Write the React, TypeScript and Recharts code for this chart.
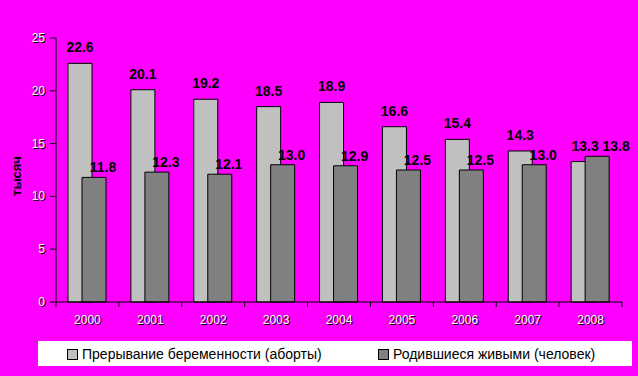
import { BarChart, Bar, XAxis, YAxis, LabelList } from "recharts";

const years = ["2000", "2001", "2002", "2003", "2004", "2005", "2006", "2007", "2008"];
const abortions = [22.6, 20.1, 19.2, 18.5, 18.9, 16.6, 15.4, 14.3, 13.3];
const births = [11.8, 12.3, 12.1, 13.0, 12.9, 12.5, 12.5, 13.0, 13.8];
const yTicks = [0, 5, 10, 15, 20, 25];

const seriesNames = ["Прерывание беременности (аборты)", "Родившиеся живыми (человек)"];
const yLabel = "тысяч";

const W = 638;
const H = 376;
const PLOT_LEFT = 56;
const PLOT_RIGHT = 622;
const PLOT_BOTTOM = 302;
const BAND = (PLOT_RIGHT - PLOT_LEFT) / years.length;
const FONT = "'Liberation Sans', Arial, sans-serif";

const data = years.map((year, i) => ({
  year,
  abortions: abortions[i],
  births: births[i],
}));

// white text with a dark edge, like the old Excel chart
function Embossed({ x, y, anchor, children }: any) {
  return (
    <g fontFamily={FONT} fontSize={12}>
      <text x={x + 1} y={y + 1} textAnchor={anchor} fill="#000">
        {children}
      </text>
      <text x={x} y={y} textAnchor={anchor} fill="#fff">
        {children}
      </text>
    </g>
  );
}

function XTick(props: any) {
  const { x, payload, index } = props;
  const left = x - BAND / 2;
  return (
    <g>
      <line x1={left} y1={PLOT_BOTTOM} x2={left} y2={PLOT_BOTTOM + 5} stroke="#000" />
      {index === years.length - 1 && (
        <line x1={x + BAND / 2} y1={PLOT_BOTTOM} x2={x + BAND / 2} y2={PLOT_BOTTOM + 5} stroke="#000" />
      )}
      <Embossed x={x} y={PLOT_BOTTOM + 22} anchor="middle">
        {payload.value}
      </Embossed>
    </g>
  );
}

function YTick(props: any) {
  const { y, payload } = props;
  return (
    <Embossed x={45} y={y + 4} anchor="end">
      {payload.value}
    </Embossed>
  );
}

// Excel pushes the labels apart when the two bars end at almost the same height
const makeLabel = (dx: number, dy: number, crowdedDx: number) => (props: any) => {
  const { x, y, width, value, index } = props;
  const crowded = Math.abs(abortions[index] - births[index]) < 1;
  return (
    <text
      x={x + width / 2 + (crowded ? crowdedDx : dx)}
      y={y - dy}
      textAnchor="middle"
      fontFamily={FONT}
      fontSize={14}
      fontWeight="bold"
      fill="#000"
    >
      {Number(value).toFixed(1)}
    </text>
  );
};

function LegendBox() {
  const item = (color: string, label: string, left: number) => (
    <div style={{ position: "absolute", left, top: 6, display: "flex", alignItems: "center" }}>
      <div
        style={{
          width: 9,
          height: 9,
          background: color,
          border: "1px solid #000",
          marginRight: 4,
        }}
      />
      <span style={{ fontSize: 14, lineHeight: "14px" }}>{label}</span>
    </div>
  );
  return (
    <div
      style={{
        position: "absolute",
        left: 38,
        top: 341,
        width: 594,
        height: 25,
        background: "#fff",
        fontFamily: FONT,
        color: "#000",
      }}
    >
      {item("#c0c0c0", seriesNames[0], 29)}
      {item("#808080", seriesNames[1], 340)}
    </div>
  );
}

export default function App() {
  return (
    <div
      style={{
        position: "fixed",
        left: 0,
        top: 0,
        width: W,
        height: H,
        background: "#ff00ff",
        overflow: "hidden",
      }}
    >
      <BarChart
        width={W}
        height={H}
        data={data}
        margin={{ top: 38, right: W - PLOT_RIGHT, left: 0, bottom: 34 }}
        barSize={24}
        barGap={-10}
      >
        <XAxis
          dataKey="year"
          height={40}
          axisLine={{ stroke: "#000" }}
          tickLine={false}
          tick={<XTick />}
          interval={0}
        />
        <YAxis
          width={PLOT_LEFT}
          domain={[0, 25]}
          ticks={yTicks}
          interval={0}
          axisLine={{ stroke: "#000" }}
          tickLine={{ stroke: "#000" }}
          tickSize={6}
          tick={<YTick />}
        />
        <Bar dataKey="abortions" fill="#c0c0c0" stroke="#000" strokeWidth={1} isAnimationActive={false}>
          <LabelList dataKey="abortions" content={makeLabel(0, 11, 2)} />
        </Bar>
        <Bar dataKey="births" fill="#808080" stroke="#000" strokeWidth={1} isAnimationActive={false}>
          <LabelList dataKey="births" content={makeLabel(9, 5, 19)} />
        </Bar>
        <text
          x={21}
          y={176}
          transform="rotate(-90 21 176)"
          textAnchor="middle"
          fontFamily={FONT}
          fontSize={13}
          fontWeight="bold"
          fill="#000"
        >
          {yLabel}
        </text>
      </BarChart>
      <LegendBox />
    </div>
  );
}
